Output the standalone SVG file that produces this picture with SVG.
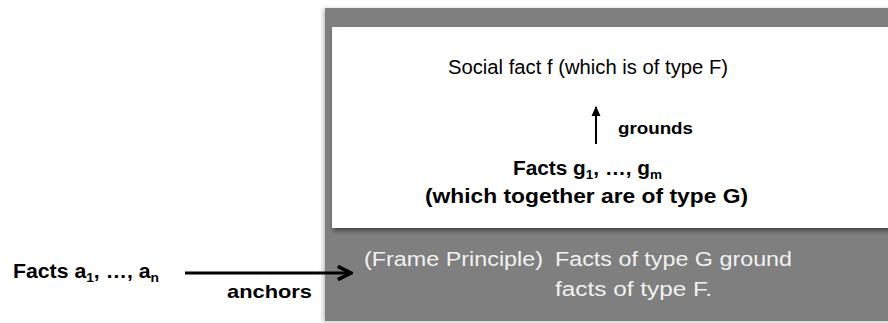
<svg xmlns="http://www.w3.org/2000/svg" width="888" height="323" viewBox="0 0 888 323">
  <defs>
    <filter id="shGray" x="-5%" y="-5%" width="110%" height="110%">
      <feDropShadow dx="-2" dy="1" stdDeviation="2" flood-color="#000" flood-opacity="0.25"/>
    </filter>
    <filter id="shWhite" x="-5%" y="-5%" width="110%" height="115%">
      <feDropShadow dx="1" dy="3" stdDeviation="2" flood-color="#000" flood-opacity="0.45"/>
    </filter>
    <marker id="chev" viewBox="0 0 10 10" refX="9" refY="5" markerWidth="5.5" markerHeight="6" orient="auto" markerUnits="strokeWidth">
      <path d="M1,1 L9,5 L1,9" fill="none" stroke="#000" stroke-width="2.2"/>
    </marker>
    <marker id="tri" viewBox="0 0 10 10" refX="9" refY="5" markerWidth="5" markerHeight="5" orient="auto" markerUnits="strokeWidth">
      <path d="M0,0.5 L10,5 L0,9.5 Z" fill="#000"/>
    </marker>
  </defs>
  <style>
    text { font-family: "Liberation Sans", Arial, sans-serif; }
    .n { font-size: 20px; fill: #000; }
    .b { font-size: 20px; font-weight: bold; fill: #000; }
    .w { font-size: 20px; fill: #f2f2f2; }
    .sub { font-size: 13px; }
    .conn { stroke: #000; fill: none; }
  </style>

  <g id="frame">
    <rect x="325" y="8" width="570" height="313" fill="#7f7f7f" filter="url(#shGray)"/>
  </g>
  <g id="inner">
    <rect x="332" y="27" width="560" height="201" fill="#ffffff" filter="url(#shWhite)"/>
  </g>

  <g id="social-fact">
    <text class="n" x="448" y="74" textLength="280" lengthAdjust="spacingAndGlyphs">Social fact f (which is of type F)</text>
  </g>

  <g id="facts-g">
    <text class="b" x="513" y="175" textLength="149" lengthAdjust="spacingAndGlyphs">Facts g<tspan class="sub" dy="4">1</tspan><tspan dy="-4">, …, g</tspan><tspan class="sub" dy="4">m</tspan></text>
    <text class="b" x="425" y="203" textLength="323" lengthAdjust="spacingAndGlyphs">(which together are of type G)</text>
  </g>

  <g id="frame-principle">
    <text class="w" x="364" y="266" textLength="179" lengthAdjust="spacingAndGlyphs">(Frame Principle)</text>
    <text class="w" x="555" y="266" textLength="237" lengthAdjust="spacingAndGlyphs">Facts of type G ground</text>
    <text class="w" x="555" y="296" textLength="157" lengthAdjust="spacingAndGlyphs">facts of type F.</text>
  </g>

  <g id="facts-a">
    <text class="b" x="13" y="278" textLength="146" lengthAdjust="spacingAndGlyphs">Facts a<tspan class="sub" dy="4">1</tspan><tspan dy="-4">, …, a</tspan><tspan class="sub" dy="4">n</tspan></text>
  </g>

  <g id="connectors">
    <line class="conn" x1="596" y1="144" x2="596" y2="107" stroke-width="2" marker-end="url(#tri)"/>
    <text class="b" x="618" y="134" style="font-size:17px" textLength="75" lengthAdjust="spacingAndGlyphs">grounds</text>
    <line class="conn" x1="185" y1="273" x2="351" y2="273" stroke-width="3" marker-end="url(#chev)"/>
    <text class="b" x="227" y="298" style="font-size:19px" textLength="85" lengthAdjust="spacingAndGlyphs">anchors</text>
  </g>
</svg>
